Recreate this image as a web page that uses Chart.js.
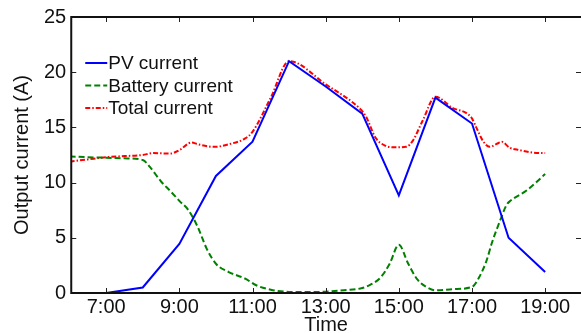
<!DOCTYPE html>
<html>
<head>
<meta charset="utf-8">
<script src="https://cdn.jsdelivr.net/npm/chart.js@4.4.1/dist/chart.umd.min.js"></script>
<style>
  html, body { margin: 0; padding: 0; background: #fff; overflow: hidden; }
  #wrap { width: 581px; height: 333px; }
</style>
</head>
<body>
<div id="wrap"><canvas id="currentChart"></canvas></div>
<script>
// hourly PV current (A)
const pvHours = [7, 8, 9, 10, 11, 12, 13, 14, 15, 16, 17, 18, 19];
const pvCurrent = [0, 0.5, 4.45, 10.6, 13.7, 21.0, 18.7, 16.25, 8.85, 17.7, 15.35, 5.0, 1.9];

// battery current (A)
const batteryHours = [6, 6.5, 7, 7.5, 8, 8.2, 8.5, 8.75, 9, 9.25, 9.5, 9.75, 10, 10.35, 10.8, 11.1, 11.5, 12, 12.5, 13, 13.5, 14, 14.25, 14.5, 14.75, 15, 15.25, 15.5, 15.75, 16, 16.5, 17, 17.2, 17.4, 17.55, 17.75, 17.95, 18.05, 18.5, 19];
const batteryCurrent = [12.37, 12.3, 12.25, 12.2, 12.05, 11.4, 10.1, 9.25, 8.35, 7.5, 6.0, 4.0, 2.65, 1.9, 1.3, 0.7, 0.3, 0.1, 0.08, 0.12, 0.25, 0.45, 0.8, 1.4, 2.65, 4.37, 2.7, 1.25, 0.55, 0.25, 0.35, 0.55, 1.45, 2.95, 4.6, 6.4, 8.0, 8.35, 9.3, 10.77];

// total current (A)
const totalHours = [6, 6.5, 7, 7.5, 8, 8.27, 8.75, 9, 9.33, 9.5, 9.95, 10.36, 10.8, 11, 11.5, 12, 13, 13.95, 14.1, 14.36, 14.64, 14.87, 15.2, 15.38, 15.65, 16, 16.45, 16.98, 17.12, 17.3, 17.48, 17.66, 17.82, 18.02, 18.3, 18.66, 19];
const totalCurrent = [11.9, 12.1, 12.3, 12.4, 12.5, 12.67, 12.63, 12.94, 13.63, 13.48, 13.24, 13.48, 14.0, 14.6, 17.7, 21.0, 18.9, 16.64, 16.0, 14.08, 13.33, 13.2, 13.24, 13.78, 15.6, 17.78, 16.8, 15.9, 14.98, 13.78, 13.24, 13.48, 13.69, 13.18, 12.94, 12.72, 12.67];

const xTickValues = [7, 9, 11, 13, 15, 17, 19];
const xTickLabels = ['7:00', '9:00', '11:00', '13:00', '15:00', '17:00', '19:00'];
const yTickValues = [0, 5, 10, 15, 20, 25];

const toPoints = (xs, ys) => xs.map((x, i) => ({ x: x, y: ys[i] }));

// MATLAB style box with inward ticks, plus the legend inside the axes
const boxPlugin = {
    id: 'box',
    afterDatasetsDraw(chart) {
        const ctx = chart.ctx;
        const a = chart.chartArea;
        const xs = chart.scales.x;
        const ys = chart.scales.y;
        ctx.save();
        ctx.strokeStyle = '#222';
        ctx.lineWidth = 1;
        ctx.beginPath();
        xTickValues.forEach(v => {
            const px = Math.round(xs.getPixelForValue(v)) + 0.5;
            ctx.moveTo(px, a.bottom); ctx.lineTo(px, a.bottom - 5);
            ctx.moveTo(px, a.top); ctx.lineTo(px, a.top + 5);
        });
        yTickValues.forEach(v => {
            const py = Math.round(ys.getPixelForValue(v)) + 0.5;
            ctx.moveTo(a.left, py); ctx.lineTo(a.left + 5, py);
            ctx.moveTo(a.right, py); ctx.lineTo(a.right - 5, py);
        });
        ctx.stroke();

        // the right side of the box falls just outside the picture
        ctx.strokeStyle = '#111';
        ctx.lineWidth = 2;
        ctx.beginPath();
        ctx.moveTo(a.right, a.top); ctx.lineTo(a.left, a.top);
        ctx.lineTo(a.left, a.bottom); ctx.lineTo(a.right, a.bottom);
        ctx.stroke();

        // legend
        ctx.font = '19px "Liberation Sans", Arial, sans-serif';
        ctx.textBaseline = 'middle';
        ctx.fillStyle = '#111';
        chart.data.datasets.forEach((ds, i) => {
            const y = a.top + 46 + i * 22.5;
            ctx.strokeStyle = ds.borderColor;
            ctx.lineWidth = ds.borderWidth;
            ctx.setLineDash(ds.borderDash || []);
            ctx.beginPath();
            ctx.moveTo(a.left + 14, y); ctx.lineTo(a.left + 36, y);
            ctx.stroke();
            ctx.setLineDash([]);
            ctx.fillText(ds.label, a.left + 37, y + 1);
        });
        ctx.restore();
    }
};

Chart.defaults.font.family = '"Liberation Sans", Arial, sans-serif';
Chart.defaults.color = '#111';

new Chart(document.getElementById('currentChart'), {
    type: 'line',
    data: {
        datasets: [{
            label: 'PV current',
            data: toPoints(pvHours, pvCurrent),
            borderColor: '#0000ff',
            borderWidth: 2,
            pointRadius: 0,
            tension: 0
        }, {
            label: 'Battery current',
            data: toPoints(batteryHours, batteryCurrent),
            borderColor: '#008000',
            borderWidth: 2,
            borderDash: [6, 3],
            pointRadius: 0,
            cubicInterpolationMode: 'monotone'
        }, {
            label: 'Total current',
            data: toPoints(totalHours, totalCurrent),
            borderColor: '#ff0000',
            borderWidth: 2,
            borderDash: [5, 2, 1.5, 2],
            pointRadius: 0,
            cubicInterpolationMode: 'monotone'
        }]
    },
    options: {
        responsive: true,
        maintainAspectRatio: false,
        animation: false,
        devicePixelRatio: 1,
        layout: { padding: { left: 0, right: 0, top: 3, bottom: -6 } },
        plugins: {
            legend: { display: false },
            tooltip: { enabled: false }
        },
        scales: {
            x: {
                type: 'linear',
                min: 6.045,
                max: 19.98,
                grid: { display: false, drawTicks: false },
                border: { display: false },
                afterBuildTicks: (scale) => {
                    scale.ticks = xTickValues.map(v => ({ value: v }));
                },
                ticks: {
                    autoSkip: false,
                    maxRotation: 0,
                    padding: 4,
                    font: { size: 20, lineHeight: 1 },
                    callback: (value) => xTickLabels[xTickValues.indexOf(value)]
                },
                title: {
                    display: true,
                    text: 'Time',
                    font: { size: 20, lineHeight: 1 },
                    padding: { top: -6, bottom: 4 }
                }
            },
            y: {
                min: 0,
                max: 25,
                grid: { display: false, drawTicks: false },
                border: { display: false },
                ticks: {
                    stepSize: 5,
                    padding: 5,
                    font: { size: 20 }
                },
                title: {
                    display: true,
                    text: 'Output current (A)',
                    font: { size: 20 },
                    padding: { top: 10, bottom: 5 }
                }
            }
        }
    },
    plugins: [boxPlugin]
});
</script>
</body>
</html>
